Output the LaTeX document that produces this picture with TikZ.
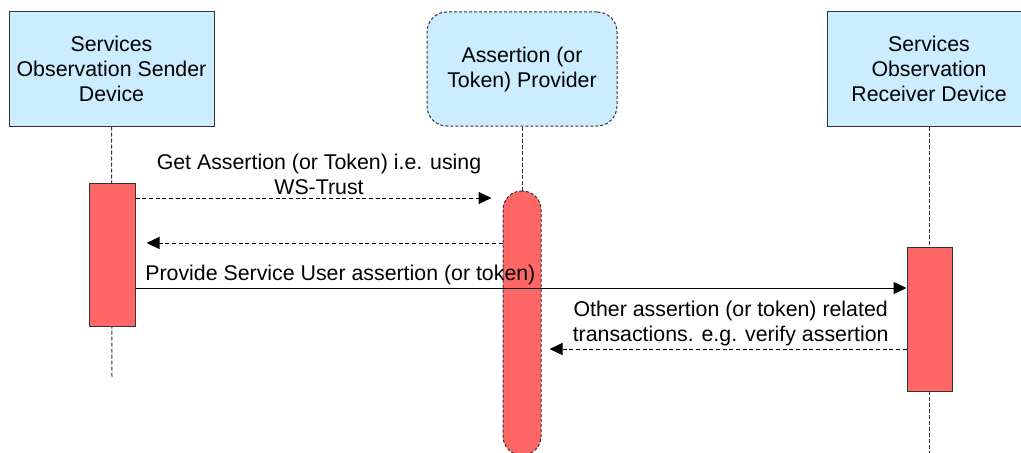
\documentclass[tikz,border=0pt]{standalone}
\usepackage{fontspec}
\setmainfont{Liberation Sans}
\usetikzlibrary{arrows.meta}

\definecolor{boxblue}{HTML}{CCECFF}
\definecolor{actred}{HTML}{FF6666}

\begin{document}
\begin{tikzpicture}[x=0.75pt,y=-0.75pt,line width=0.75pt,
  font=\fontsize{16}{18.75}\selectfont,
  party/.style={draw=black!80,fill=boxblue,align=center,inner sep=0pt,minimum height=85.5pt},
  act/.style={draw=black!80,fill=actred,inner sep=0pt},
  fine/.style={dash pattern=on 2.25pt off 1.5pt},
  lifeline/.style={dash pattern=on 3pt off 1.5pt,draw=black!80},
  msg/.style={-{Triangle[length=9.75pt,width=9pt]}},
  reply/.style={msg,dash pattern=on 3pt off 2pt},
  label/.style={above,align=center,inner sep=2pt}]
\useasboundingbox (0,0) rectangle (1021,453);

\node[party,minimum width=153.75pt] (sender) at (111.5,69) {Services\\Observation Sender\\Device};
\node[party,minimum width=142.5pt,rounded corners=15pt,fine] (provider) at (522,69) {Assertion (or\\Token) Provider};
\node[party,minimum width=153pt] (receiver) at (929,69) {Services\\Observation\\Receiver Device};

\coordinate (senderend) at (112,377);
\coordinate (receiverend) at (929,455);

\draw[lifeline] (sender) -- (senderend);
\draw[lifeline] (receiver) -- (receiverend);

\node[act,minimum width=34.5pt,minimum height=107.25pt] (sendact) at (112,254.5) {};
\node[act,minimum width=28.5pt,minimum height=198pt,rounded corners=14pt,fine] (provact) at (522,323) {};
\node[act,minimum width=33.75pt,minimum height=108pt] (recvact) at (929.5,319) {};

\draw[lifeline] (provider) -- (provact);

\draw[reply,shorten >=8.25pt] (sendact.east |- 0,198) -- node[label] {Get Assertion (or Token) i.e. using\\WS-Trust} (provact.west |- 0,198);
\draw[reply,shorten >=8.25pt] (provact.west |- 0,243) -- (sendact.east |- 0,243);
\draw[msg] (sendact.east |- 0,288) -- node[label,pos=0,anchor=south west,xshift=5pt] {Provide Service User assertion (or token)} (recvact.west |- 0,288);
\draw[reply,shorten >=6pt] (recvact.west |- 0,349) -- node[label,xshift=5pt] {Other assertion (or token) related\\transactions. e.g. verify assertion} (provact.east |- 0,349);
\end{tikzpicture}
\end{document}
